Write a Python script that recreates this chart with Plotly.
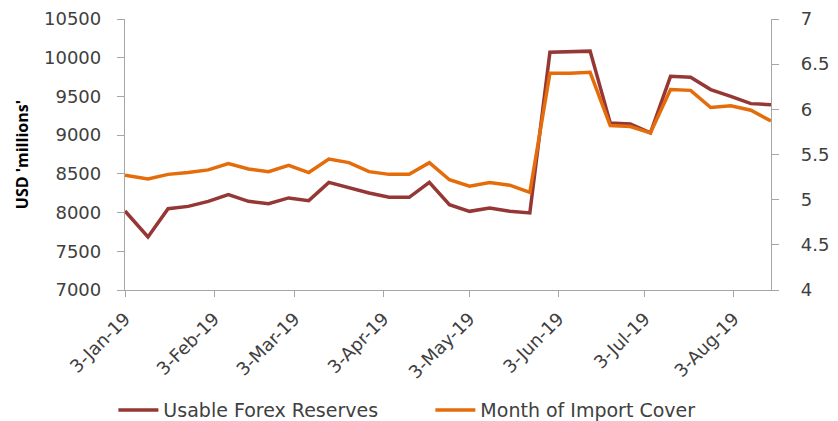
import plotly.graph_objects as go

dates = ["2019-01-03", "2019-01-11", "2019-01-18", "2019-01-25", "2019-02-01",
         "2019-02-08", "2019-02-15", "2019-02-22", "2019-03-01", "2019-03-08",
         "2019-03-15", "2019-03-22", "2019-03-29", "2019-04-05", "2019-04-12",
         "2019-04-19", "2019-04-26", "2019-05-03", "2019-05-10", "2019-05-17",
         "2019-05-24", "2019-05-31", "2019-06-07", "2019-06-14", "2019-06-21",
         "2019-06-28", "2019-07-05", "2019-07-12", "2019-07-19", "2019-07-26",
         "2019-08-02", "2019-08-09", "2019-08-16"]

usable_forex = [8020, 7685, 8050, 8080, 8145, 8231, 8145, 8115, 8189, 8154,
                8390, 8318, 8253, 8197, 8197, 8390, 8102, 8016, 8059, 8016,
                7995, 10070, 10075, 10085, 9158, 9145, 9028, 9760, 9747, 9588,
                9501, 9407, 9394]

import_cover = [5.27, 5.23, 5.28, 5.30, 5.33, 5.40, 5.34, 5.31, 5.38, 5.30,
                5.45, 5.41, 5.31, 5.28, 5.28, 5.41, 5.22, 5.15, 5.19, 5.16,
                5.08, 6.40, 6.40, 6.41, 5.82, 5.81, 5.74, 6.22, 6.21, 6.02,
                6.04, 5.99, 5.87]

tick_dates = ["2019-01-03", "2019-02-03", "2019-03-03", "2019-04-03",
              "2019-05-03", "2019-06-03", "2019-07-03", "2019-08-03"]
tick_text = ["3-Jan-19", "3-Feb-19", "3-Mar-19", "3-Apr-19",
             "3-May-19", "3-Jun-19", "3-Jul-19", "3-Aug-19"]

FONT = "DejaVu Sans"
TXT = "#404040"
AX = "#A6A6A6"

fig = go.Figure()
fig.add_trace(go.Scatter(x=dates, y=usable_forex, name="Usable Forex Reserves",
                         mode="lines", line=dict(color="#953735", width=3.5),
                         yaxis="y"))
fig.add_trace(go.Scatter(x=dates, y=import_cover, name="Month of Import Cover",
                         mode="lines", line=dict(color="#E46C0A", width=3.5),
                         yaxis="y2"))

fig.update_layout(
    width=830, height=413,
    margin=dict(l=117, r=67, t=11, b=131, autoexpand=False),
    paper_bgcolor="white", plot_bgcolor="white",
    font=dict(family=FONT, size=18, color=TXT),
    showlegend=True,
    legend=dict(orientation="h", xref="paper", yref="paper",
                x=-0.018, y=-0.443, xanchor="left", yanchor="middle",
                font=dict(family=FONT, size=19, color=TXT),
                entrywidth=262, itemwidth=40, tracegroupgap=0),
    xaxis=dict(type="date", range=["2019-01-03", "2019-08-16"],
               tickvals=tick_dates, ticktext=tick_text, tickangle=-45,
               showgrid=False, zeroline=False, showline=True, linecolor=AX,
               linewidth=1.3, ticks="outside", ticklen=6, tickcolor=AX,
               ticklabelstandoff=4,
               tickfont=dict(family=FONT, size=18, color=TXT)),
    yaxis=dict(range=[7000, 10500], dtick=500, tickformat="d",
               showgrid=False, zeroline=False, showline=True, linecolor=AX,
               linewidth=1.3, ticks="outside", ticklen=7, tickcolor=AX,
               ticklabelstandoff=12,
               tickfont=dict(family=FONT, size=18, color=TXT)),
    yaxis2=dict(range=[4, 7], dtick=0.5, overlaying="y", side="right",
                showgrid=False, zeroline=False, showline=True, linecolor=AX,
                linewidth=1.3, ticks="outside", ticklen=7, tickcolor=AX,
                ticklabelstandoff=18,
                tickfont=dict(family=FONT, size=18, color=TXT)),
    annotations=[dict(text="<b>USD 'millions'</b>", textangle=-90,
                      xref="paper", yref="paper", x=-0.16, y=0.5,
                      xanchor="center", yanchor="middle", showarrow=False,
                      font=dict(family="Open Sans", size=16, color="black"))],
)

fig.write_html("out.html")
